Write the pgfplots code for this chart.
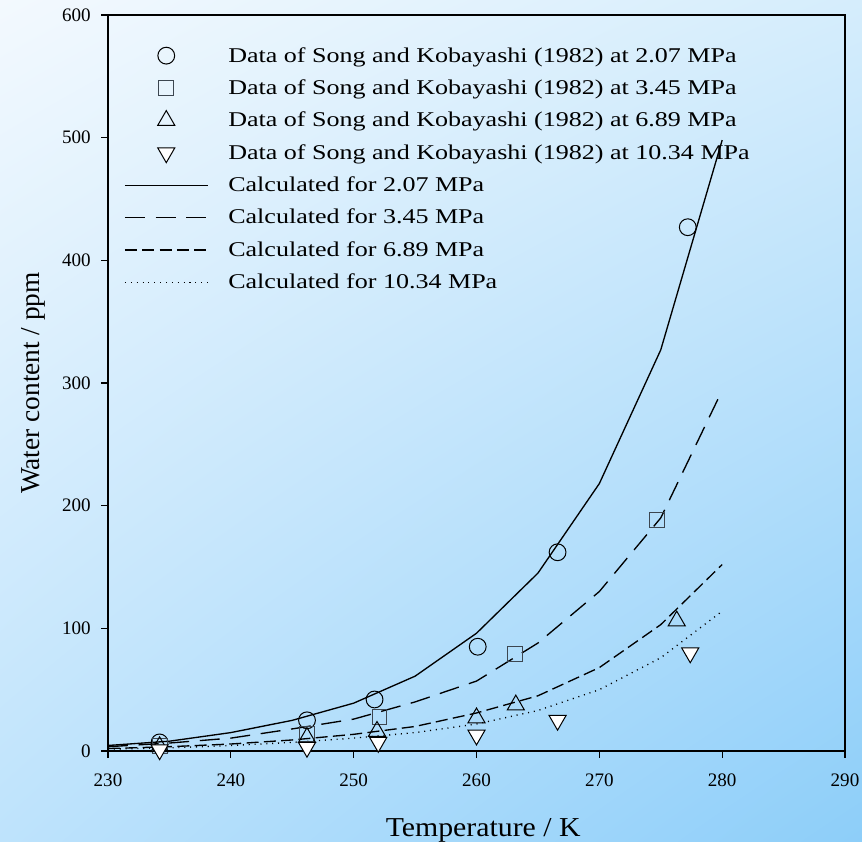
\documentclass[border=0pt]{standalone}
\usepackage{pgfplots}
\pgfplotsset{compat=1.18}
\usetikzlibrary{shadings}
\usepackage{fontspec}
\setmainfont{Liberation Serif}
\newfontfamily\legfont[FakeStretch=1.24]{Liberation Serif}
\newfontfamily\xlabfont[FakeStretch=1.09]{Liberation Serif}
\definecolor{bgTL}{RGB}{243,249,254}
\definecolor{bgTR}{RGB}{213,237,252}
\definecolor{bgBL}{RGB}{190,227,252}
\definecolor{bgBR}{RGB}{141,206,249}
\definecolor{sqcol}{RGB}{60,70,80}

\pgfplotstableread{
x y
234.2 7
246.2 25
251.7 42
260.1 85
266.6 162
277.2 427
}\dataA
\pgfplotstableread{
x y
234.2 4
246.2 14
252.1 28
263.1 79
274.7 188
}\dataB
\pgfplotstableread{
x y
234.2 3.5
246.2 11
251.9 16
260.0 27
263.2 37.5
276.3 106
}\dataC
\pgfplotstableread{
x y
234.2 1
246.2 3
252.0 7
260.0 13
266.6 25
277.4 80
}\dataD
\pgfplotstableread{
x a b c d
230 4.5 3.5 2 1.5
235 8 6.5 3.5 2.5
240 15 10.5 5.7 4.5
245 25 18 9 7
250 39 26 13.6 10.5
255 61 40 20 15
260 96 57 31 22
265 145 88 45 33
270 218 130 68 50
275 327 190 103 76
280 498 294 152 114
}\calc

\begin{document}
\begin{tikzpicture}
\shade[upper left=bgTL, upper right=bgTR, lower left=bgBL, lower right=bgBR] (0,0) rectangle (646.5pt,630.75pt);
\begin{axis}[
  at={(81pt,67.5pt)}, anchor=south west,
  scale only axis, width=552.75pt, height=552pt,
  xmin=230, xmax=290, ymin=0, ymax=600,
  xtick={230,240,...,290}, ytick={0,100,...,600},
  tick pos=left, tick align=outside, major tick length=5pt,
  axis line style={black, line width=0.8pt},
  tick style={black, line width=0.8pt},
  /pgf/number format/assume math mode=true,
  ticklabel style={font=\fontsize{14.3}{17}\selectfont},
  xticklabel style={yshift=-8.5pt},
  yticklabel style={xshift=-4.5pt},
  xlabel={Temperature / K},
  ylabel={Water content / ppm},
  xlabel style={font=\xlabfont\fontsize{20.5}{24}\selectfont, at={(axis description cs:0.5,0)}, anchor=center, yshift=-59.5pt, xshift=5pt},
  ylabel style={font=\fontsize{20.5}{24}\selectfont, at={(axis description cs:0,0.5)}, anchor=center, yshift=56.25pt},
  legend image code/.code={\draw[mark repeat=2,mark phase=2] plot coordinates {(0pt,0pt)(31pt,0pt)(62pt,0pt)};},
  legend cell align=left,
  legend style={draw=none, fill=none, font=\legfont\fontsize{15.75}{19}\selectfont,
    at={(axis description cs:0,1)}, anchor=north west, xshift=12pt, yshift=-22pt,
    row sep=7.7pt, inner sep=0pt,
    /tikz/every odd column/.append style={column sep=13pt}},
]
\addplot[only marks, mark=o, mark size=6.3pt, line width=0.75pt, draw=black] table[x=x,y=y] {\dataA};
\addlegendentry{Data of Song and Kobayashi (1982) at 2.07 MPa}
\addplot[only marks, mark=square, mark size=5.6pt, line width=0.75pt, draw=sqcol] table[x=x,y=y] {\dataB};
\addlegendentry{Data of Song and Kobayashi (1982) at 3.45 MPa}
\addplot[only marks, mark=triangle, mark size=7.4pt, line width=0.75pt, draw=black] table[x=x,y=y] {\dataC};
\addlegendentry{Data of Song and Kobayashi (1982) at 6.89 MPa}
\addplot[only marks, mark=triangle*, mark size=7.4pt, mark options={rotate=180, fill=white}, line width=0.75pt, draw=black] table[x=x,y=y] {\dataD};
\addlegendentry{Data of Song and Kobayashi (1982) at 10.34 MPa}
\addplot[no marks, black, line width=1pt] table[x=x,y=a] {\calc};
\addlegendentry{Calculated for 2.07 MPa}
\addplot[no marks, black, line width=1pt, dash pattern=on 15pt off 8pt] table[x=x,y=b] {\calc};
\addlegendentry{Calculated for 3.45 MPa}
\addplot[no marks, black, line width=1pt, dash pattern=on 9pt off 4pt] table[x=x,y=c] {\calc};
\addlegendentry{Calculated for 6.89 MPa}
\addplot[no marks, black, line width=1pt, dash pattern=on 0.8pt off 3.6pt] table[x=x,y=d] {\calc};
\addlegendentry{Calculated for 10.34 MPa}
\end{axis}
\pgfresetboundingbox
\useasboundingbox (0,0) rectangle (646.5pt,630.75pt);
\end{tikzpicture}
\end{document}
